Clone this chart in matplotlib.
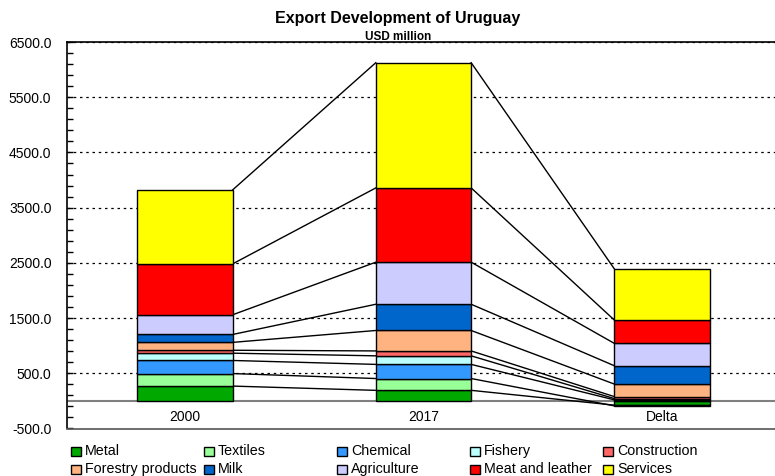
import numpy as np
import matplotlib
matplotlib.use("Agg")
import matplotlib.pyplot as plt
from matplotlib.patches import Rectangle
from matplotlib.ticker import FixedLocator, FormatStrFormatter

plt.rcParams["font.family"] = ["Liberation Sans", "DejaVu Sans"]

# Data (USD million)
sectors = ["Metal", "Textiles", "Chemical", "Fishery", "Construction",
           "Forestry products", "Milk", "Agriculture", "Meat and leather", "Services"]
exports_2000 = [268, 227, 237, 132, 53, 143, 143, 357, 922, 1340]
exports_2017 = [191, 214, 256, 155, 89, 370, 475, 762, 1345, 2268]
bar_labels = ["2000", "2017", "Delta"]

colors = ["#00A800", "#99FF99", "#3399FF", "#BBFFFF", "#FF6666",
          "#FFB380", "#0066CC", "#CCCCFF", "#FF0000", "#FFFF00"]

delta = [b - a for a, b in zip(exports_2000, exports_2017)]
columns = [exports_2000, exports_2017, delta]

fig = plt.figure(figsize=(7.75, 4.76), dpi=100)
ax = fig.add_axes([66.7 / 775, 1 - 428.5 / 476, 1 - 66.7 / 775, (428.5 - 42) / 476])

width = 0.4
xpos = np.arange(len(columns))

# stack each column, remember the end of every segment for connector lines
ends = []
for x, vals in zip(xpos, columns):
    pos, neg = 0.0, 0.0
    col_ends = []
    for v, c in zip(vals, colors):
        if v >= 0:
            ax.bar(x, v, width, bottom=pos, color=c, edgecolor="black", linewidth=1, zorder=3)
            pos += v
            col_ends.append(pos)
        else:
            ax.bar(x, v, width, bottom=neg, color=c, edgecolor="black", linewidth=1, zorder=3)
            neg += v
            col_ends.append(neg)
    ends.append(col_ends)

# connector lines between neighbouring columns
for i in range(len(columns) - 1):
    for a, b in zip(ends[i], ends[i + 1]):
        ax.plot([xpos[i] + width / 2, xpos[i + 1] - width / 2], [a, b],
                color="black", linewidth=1, zorder=2)

ax.axhline(0, color="#808080", linewidth=1.5, zorder=1)

ax.set_xlim(-0.496, 2.474)
ax.set_ylim(-500, 6500)
ax.set_xticks([])
for x, lab in zip(xpos, bar_labels):
    ax.text(x, -290, lab, ha="center", va="center", fontsize=10)

major = np.arange(-500, 6501, 1000)
ax.yaxis.set_major_locator(FixedLocator(major))
ax.yaxis.set_minor_locator(FixedLocator(np.arange(-500, 6501, 200)))
ax.yaxis.set_major_formatter(FormatStrFormatter("%.1f"))
ax.tick_params(axis="y", which="major", direction="in", length=4, width=1, pad=11, labelsize=10)
ax.tick_params(axis="y", which="minor", direction="in", length=4, width=1)
for y in major[1:]:
    ax.axhline(y, color="black", linewidth=0.9, linestyle=(0, (2, 3)), zorder=0)

for s in ["left", "top", "bottom"]:
    ax.spines[s].set_linewidth(1.2)
ax.spines["bottom"].set_color("#555555")
ax.spines["right"].set_visible(False)

fig.text(398 / 775, 1 - 19 / 476, "Export Development of Uruguay",
         ha="center", va="center", fontsize=11.5, fontweight="bold")
fig.text(398 / 775, 1 - 36.5 / 476, "USD million",
         ha="center", va="center", fontsize=8.5, fontweight="bold")

# legend, 5 columns of equal width
col_x = [71, 204, 337, 470, 603]
row_y = [451, 469]
for k, (name, c) in enumerate(zip(sectors, colors)):
    bx = col_x[k % 5]
    by = row_y[k // 5]
    fig.patches.append(Rectangle((bx / 775, 1 - (by + 4.5) / 476), 10 / 775, 9 / 476,
                                 facecolor=c, edgecolor="black", linewidth=1,
                                 transform=fig.transFigure, figure=fig))
    fig.text((bx + 14) / 775, 1 - by / 476, name, ha="left", va="center", fontsize=10.3)

fig.savefig("out.png", dpi=100)
